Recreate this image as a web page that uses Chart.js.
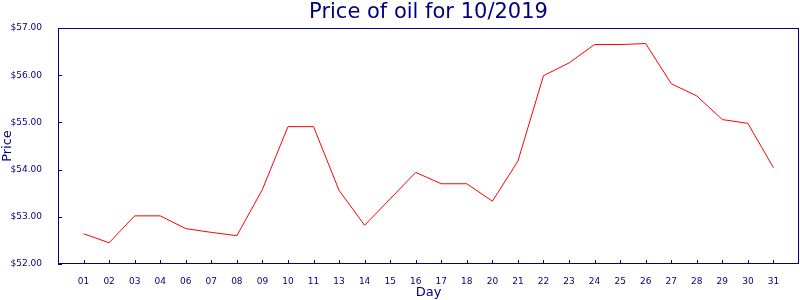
<!DOCTYPE html>
<html>
<head>
<meta charset="utf-8">
<script src="https://cdn.jsdelivr.net/npm/chart.js@4"></script>
<style>
  html, body { margin: 0; padding: 0; background: #fff; }
  #wrap { width: 800px; height: 300px; }
</style>
</head>
<body>
<div id="wrap"><canvas id="oilChart"></canvas></div>
<script>
const days = ["01","02","03","04","06","07","08","09","10","11","13","14","15","16",
              "17","18","20","21","22","23","24","25","26","27","28","29","30","31"]
const prices = [52.64, 52.45, 53.02, 53.02, 52.75, 52.67, 52.60, 53.58, 54.91, 54.91, 53.56, 52.82, 53.38, 53.94,
                53.70, 53.70, 53.33, 54.18, 55.99, 56.26, 56.65, 56.65, 56.67, 55.82, 55.56, 55.06, 54.98, 54.04]
const yTicks = [52, 53, 54, 55, 56, 57]

const navy = "#000080"
const chartTitle = "Price of oil for 10/2019"

// title centred over the plot, box round the plot, short ticks drawn inward
const framePlugin = {
    id: "frame",
    afterDraw(chart) {
        const ctx = chart.ctx
        const a = chart.chartArea
        ctx.save()
        ctx.strokeStyle = navy
        ctx.lineWidth = 1
        ctx.strokeRect(Math.round(a.left) + 0.5, Math.round(a.top) + 0.5,
                       Math.round(a.right - a.left) - 1, Math.round(a.bottom - a.top) - 1)
        ctx.beginPath()
        chart.scales.x.ticks.forEach(t => {
            const px = Math.round(chart.scales.x.getPixelForValue(t.value)) + 0.5
            ctx.moveTo(px, a.bottom)
            ctx.lineTo(px, a.bottom - 4)
        })
        chart.scales.y.ticks.forEach(t => {
            const py = Math.round(chart.scales.y.getPixelForValue(t.value)) + 0.5
            ctx.moveTo(a.left, py)
            ctx.lineTo(a.left + 4, py)
        })
        ctx.stroke()
        ctx.fillStyle = navy
        ctx.font = "21px 'DejaVu Sans'"
        ctx.textAlign = "center"
        ctx.textBaseline = "alphabetic"
        ctx.fillText(chartTitle, (a.left + a.right) / 2, 18)
        ctx.restore()
    }
}

new Chart(
    document.getElementById("oilChart"),
    {
        type: "line",
        data: {
            datasets: [
                {
                    data: prices.map((p, i) => ({ x: i + 1, y: p })),
                    borderColor: "#ff0000",
                    borderWidth: 1,
                    pointRadius: 0,
                    tension: 0
                }
            ]
        },
        options: {
            responsive: true,
            maintainAspectRatio: false,
            animation: false,
            layout: { padding: { top: 28, right: 1, left: 0, bottom: 0 } },
            plugins: {
                legend: { display: false },
                title: { display: false },
                tooltip: { enabled: false }
            },
            scales: {
                x: {
                    type: "linear",
                    min: 0,
                    max: days.length + 1,
                    afterBuildTicks: scale => {
                        scale.ticks = days.map((d, i) => ({ value: i + 1 }))
                    },
                    afterFit: scale => { scale.height = 36 },
                    grid: { display: false },
                    border: { display: false },
                    ticks: {
                        color: navy,
                        font: { family: "DejaVu Sans", size: 9 },
                        padding: 4,
                        autoSkip: false,
                        maxRotation: 0,
                        callback: v => days[v - 1]
                    },
                    title: {
                        display: true,
                        text: "Day",
                        color: navy,
                        font: { family: "DejaVu Sans", size: 13 },
                        padding: { top: 2, bottom: 0 }
                    }
                },
                y: {
                    min: yTicks[0],
                    max: yTicks[yTicks.length - 1],
                    afterBuildTicks: scale => {
                        scale.ticks = yTicks.map(v => ({ value: v }))
                    },
                    afterFit: scale => { scale.width = 58 },
                    grid: { display: false },
                    border: { display: false },
                    ticks: {
                        color: navy,
                        font: { family: "DejaVu Sans", size: 9 },
                        padding: 8,
                        callback: v => "$" + v.toFixed(2)
                    },
                    title: {
                        display: true,
                        text: "Price",
                        color: navy,
                        font: { family: "DejaVu Sans", size: 13 },
                        padding: { top: 0, bottom: 0 }
                    }
                }
            }
        },
        plugins: [framePlugin]
    }
)
</script>
</body>
</html>
